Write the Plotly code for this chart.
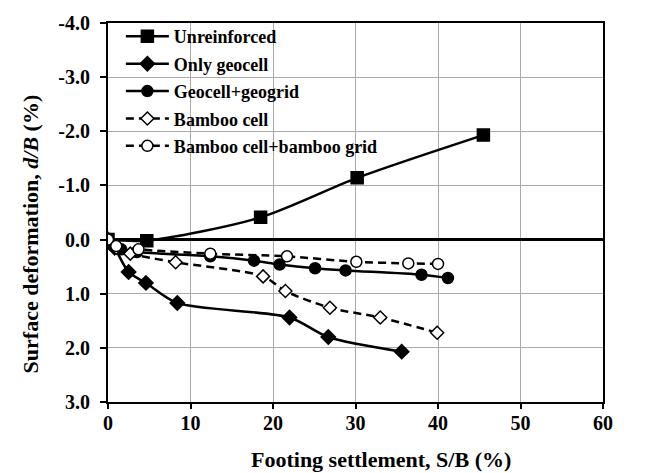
import plotly.graph_objects as go

# ---- data ----
unreinforced_x = [0, 4.7, 18.5, 30.2, 45.5]
unreinforced_y = [0, 0.02, -0.41, -1.14, -1.93]

only_geocell_x = [0, 0.8, 2.5, 4.6, 8.4, 22.0, 26.7, 35.6]
only_geocell_y = [0, 0.15, 0.60, 0.80, 1.17, 1.44, 1.80, 2.07]

geocell_geogrid_x = [0, 0.7, 1.6, 3.5, 12.4, 17.7, 20.8, 25.1, 28.8, 38.0, 41.2]
geocell_geogrid_y = [0, 0.12, 0.18, 0.23, 0.31, 0.39, 0.46, 0.53, 0.57, 0.65, 0.71]

bamboo_cell_x = [0, 1.0, 2.7, 8.2, 18.8, 21.5, 26.9, 33.0, 39.9]
bamboo_cell_y = [0, 0.15, 0.26, 0.42, 0.68, 0.95, 1.26, 1.44, 1.72]

bamboo_grid_x = [0, 1.0, 3.7, 12.4, 21.7, 30.1, 36.4, 40.0]
bamboo_grid_y = [0, 0.12, 0.18, 0.26, 0.31, 0.41, 0.44, 0.45]

series_names = ["Unreinforced", "Only geocell", "Geocell+geogrid",
                "Bamboo cell", "Bamboo cell+bamboo grid"]

x_ticks = [0, 10, 20, 30, 40, 50, 60]
y_ticks = [-4, -3, -2, -1, 0, 1, 2, 3]
y_ticklabels = ["-4.0", "-3.0", "-2.0", "-1.0", "0.0", "1.0", "2.0", "3.0"]

FONT = "Liberation Serif"

fig = go.Figure()

specs = [
    (unreinforced_x, unreinforced_y, "square", "black", "solid", 12),
    (only_geocell_x, only_geocell_y, "diamond", "black", "solid", 11),
    (geocell_geogrid_x, geocell_geogrid_y, "circle", "black", "solid", 11),
    (bamboo_cell_x, bamboo_cell_y, "diamond", "white", "dash", 10),
    (bamboo_grid_x, bamboo_grid_y, "circle", "white", "dash", 11),
]

for i, (xs, ys, sym, fill, dash, msize) in enumerate(specs):
    fig.add_trace(go.Scatter(
        x=xs, y=ys, name=series_names[i], mode="lines+markers",
        legendgroup=f"g{i}",
        line=dict(color="black", width=2.5, dash=("8px,5px" if dash == "dash" else "solid"),
                  shape="spline", smoothing=0.8),
        marker=dict(symbol=sym, size=msize, color=fill,
                    line=dict(color="black", width=1.5)),
    ))

fig.add_annotation(
    text="<b>Surface deformation, <i>d/B</i> (%)</b>", textangle=-90,
    xref="paper", yref="paper", x=-0.157, y=0.443,
    xanchor="center", yanchor="middle", showarrow=False,
    font=dict(family=FONT, size=22, color="black"))
fig.add_annotation(
    text="<b>Footing settlement, S/B (%)</b>",
    xref="paper", yref="paper", x=0.552, y=-0.152,
    xanchor="center", yanchor="middle", showarrow=False,
    font=dict(family=FONT, size=22, color="black"))

fig.update_layout(
    width=650, height=473,
    margin=dict(l=108, r=47, t=19, b=71),
    paper_bgcolor="white", plot_bgcolor="white",
    font=dict(family=FONT, color="black"),
    showlegend=True,
    legend=dict(x=0.026, y=1.013, xanchor="left", yanchor="top",
                bgcolor="rgba(0,0,0,0)", borderwidth=0,
                tracegroupgap=1, itemwidth=43,
                font=dict(family=FONT, size=18, color="black", weight="bold")),
    xaxis=dict(range=[0, 60], tickvals=x_ticks, ticktext=[str(v) for v in x_ticks],
               showgrid=True, gridcolor="#aaaaaa", gridwidth=1,
               showline=True, linecolor="black", linewidth=2, mirror=True,
               ticks="outside", ticklen=5, tickwidth=2, tickcolor="black",
               ticklabelstandoff=-3,
               zeroline=False,
               tickfont=dict(family=FONT, size=20, color="black", weight="bold")),
    yaxis=dict(range=[3, -4], tickvals=y_ticks, ticktext=y_ticklabels,
               showgrid=True, gridcolor="#aaaaaa", gridwidth=1,
               showline=True, linecolor="black", linewidth=2, mirror=True,
               ticks="outside", ticklen=6, tickwidth=2, tickcolor="black",
               ticklabelstandoff=6,
               zeroline=True, zerolinecolor="black", zerolinewidth=3,
               tickfont=dict(family=FONT, size=20, color="black", weight="bold")),
)

fig.write_html("out.html")
